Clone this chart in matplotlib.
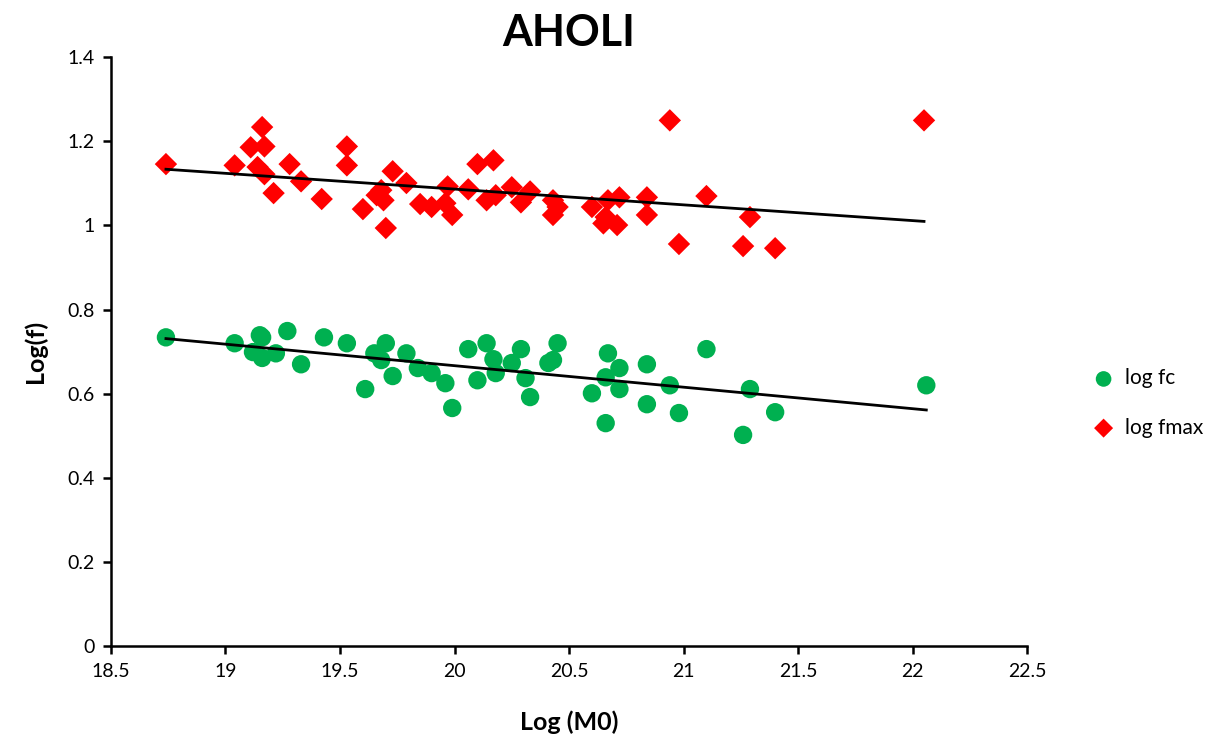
import numpy as np
import matplotlib.pyplot as plt

plt.rcParams['font.family'] = ['Lato', 'DejaVu Sans']

# log fc (green circles)
fc_m0 = [18.74, 19.04, 19.15, 19.16, 19.12, 19.16, 19.22, 19.27, 19.33, 19.43,
         19.53, 19.61, 19.65, 19.70, 19.68, 19.73, 19.79, 19.84, 19.90, 19.96,
         19.99, 20.06, 20.10, 20.14, 20.17, 20.18, 20.25, 20.29, 20.31, 20.33,
         20.41, 20.43, 20.45, 20.67, 20.66, 20.60, 20.72, 20.72, 20.66, 20.84,
         20.84, 20.94, 20.98, 21.10, 21.29, 21.40, 21.26, 22.06]
log_fc = [0.734, 0.720, 0.739, 0.734, 0.699, 0.685, 0.696, 0.749, 0.670, 0.734,
          0.720, 0.611, 0.696, 0.720, 0.680, 0.642, 0.696, 0.661, 0.649, 0.625,
          0.566, 0.706, 0.632, 0.720, 0.682, 0.649, 0.673, 0.706, 0.637, 0.592,
          0.673, 0.680, 0.720, 0.696, 0.639, 0.601, 0.661, 0.611, 0.530, 0.670,
          0.575, 0.620, 0.554, 0.706, 0.611, 0.556, 0.502, 0.620]

# log fmax (red diamonds)
fmax_m0 = [18.74, 19.04, 19.11, 19.16, 19.17, 19.14, 19.17, 19.21, 19.28, 19.33,
           19.42, 19.53, 19.53, 19.60, 19.66, 19.68, 19.69, 19.70, 19.73, 19.79,
           19.85, 19.90, 19.96, 19.97, 19.99, 20.06, 20.10, 20.17, 20.14, 20.18,
           20.25, 20.29, 20.33, 20.43, 20.43, 20.45, 20.60, 20.67, 20.66, 20.65,
           20.72, 20.71, 20.84, 20.84, 20.94, 20.98, 21.10, 21.29, 21.26, 21.40,
           22.05]
log_fmax = [1.146, 1.143, 1.186, 1.234, 1.188, 1.139, 1.122, 1.077, 1.146, 1.105,
            1.063, 1.188, 1.143, 1.039, 1.072, 1.084, 1.060, 0.994, 1.129, 1.101,
            1.051, 1.044, 1.053, 1.093, 1.025, 1.086, 1.146, 1.155, 1.060, 1.072,
            1.091, 1.055, 1.081, 1.060, 1.025, 1.044, 1.044, 1.060, 1.020, 1.005,
            1.067, 1.001, 1.067, 1.025, 1.250, 0.956, 1.070, 1.020, 0.951, 0.946,
            1.250]

green = '#00B050'
red = '#FF0000'

fig = plt.figure(figsize=(12.29, 7.44), dpi=100)
ax = fig.add_axes([0.0903, 0.1317, 0.7454, 0.7913])

ax.scatter(fc_m0, log_fc, s=175, color=green, marker='o', edgecolors='none',
           label='log fc', zorder=3)
ax.scatter(fmax_m0, log_fmax, s=130, color=red, marker='D', edgecolors='none',
           label='log fmax', zorder=3)

# linear trend lines (like excel)
for xs, ys in [(fc_m0, log_fc), (fmax_m0, log_fmax)]:
    xs = np.array(xs)
    k, b = np.polyfit(xs, ys, 1)
    xl = np.array([xs.min(), xs.max()])
    ax.plot(xl, k * xl + b, color='black', linewidth=2.0, zorder=4)

ax.set_xlim(18.5, 22.5)
ax.set_ylim(0, 1.4)
ax.set_xticks(np.arange(18.5, 22.51, 0.5))
ax.set_xticklabels(['18.5', '19', '19.5', '20', '20.5', '21', '21.5', '22', '22.5'])
ax.set_yticks(np.arange(0, 1.41, 0.2))
ax.set_yticklabels(['0', '0.2', '0.4', '0.6', '0.8', '1', '1.2', '1.4'])

for s in ['top', 'right']:
    ax.spines[s].set_visible(False)
for s in ['left', 'bottom']:
    ax.spines[s].set_linewidth(1.8)
ax.tick_params(axis='both', direction='out', length=6, width=1.8,
               labelsize=14, pad=6)

ax.set_title('AHOLI', fontsize=31, fontweight='bold', pad=8)
ax.set_xlabel('Log (M0)', fontsize=18, fontweight='bold', labelpad=22)
ax.set_ylabel('Log(f)', fontsize=18, fontweight='bold', labelpad=14)

leg = ax.legend(loc='center left', bbox_to_anchor=(1064 / 1229, 1 - 403 / 744),
                bbox_transform=fig.transFigure, frameon=False, fontsize=15,
                handletextpad=0.05, labelspacing=1.4, markerscale=0.85)

fig.savefig('out.png', dpi=100)
